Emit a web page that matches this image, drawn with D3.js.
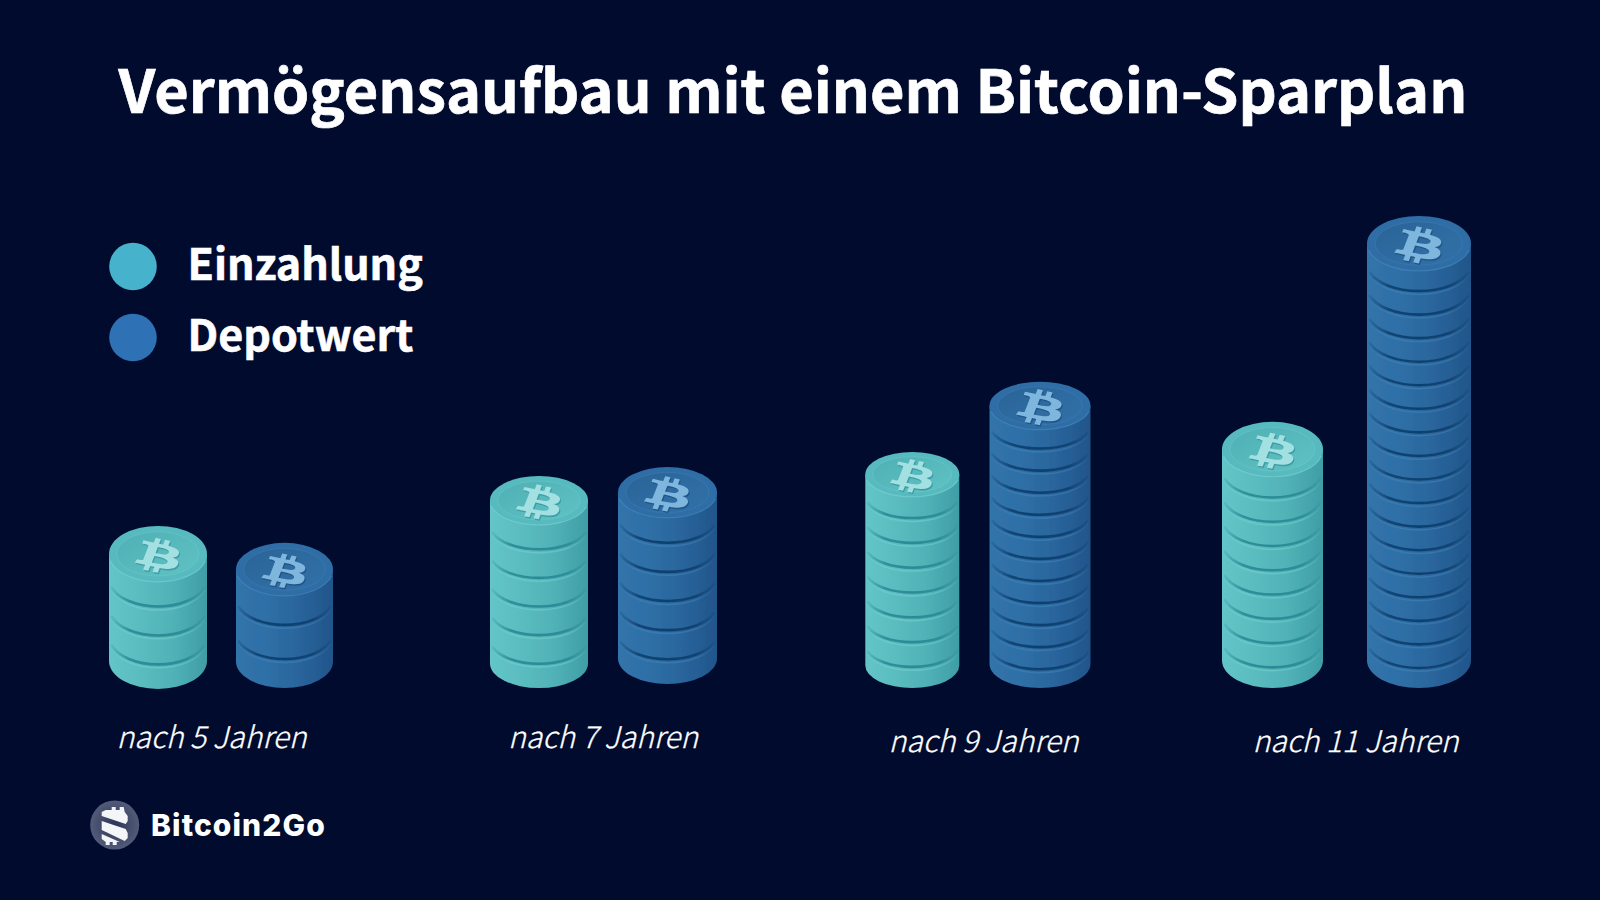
<!DOCTYPE html>
<html lang="de">
<head>
<meta charset="utf-8">
<title>Vermögensaufbau mit einem Bitcoin-Sparplan</title>
<script src="https://cdn.jsdelivr.net/npm/d3@7/dist/d3.min.js"></script>
<style>
html,body{margin:0;padding:0;background:#000b2e;}
svg{display:block;}
text{font-family:"Noto Sans CJK JP","Noto Sans",sans-serif;fill:#fff;}
</style>
</head>
<body>
<svg id="chart" width="1600" height="900"></svg>
<script>
// ---- data (stack height as % of the tallest stack, coins per stack)
const titleText = "Vermögensaufbau mit einem Bitcoin-Sparplan";
const categories = ["nach 5 Jahren", "nach 7 Jahren", "nach 9 Jahren", "nach 11 Jahren"];
const seriesNames = ["Einzahlung", "Depotwert"];
const einzahlungHeight = [34.2, 44.8, 49.9, 56.3];
const depotwertHeight = [30.6, 46.7, 64.8, 100];
const einzahlungCoins = [4, 6, 8, 9];
const depotwertCoins = [3, 6, 12, 18];
const brandName = "Bitcoin2Go";

// ---- layout and style, kept apart from the data
const W = 1600, H = 900, BG = "#000b2e";
const BTC = "M17.288 10.291c.24-1.59-.974-2.45-2.64-3.03l.54-2.153-1.315-.33-.525 2.107c-.345-.087-.705-.167-1.064-.25l.526-2.127-1.32-.33-.54 2.165c-.285-.067-.565-.132-.84-.2l-1.815-.45-.35 1.407s.975.225.955.236c.535.136.63.486.615.766l-1.477 5.92c-.075.166-.24.406-.614.314.015.02-.96-.24-.96-.24l-.66 1.51 1.71.426.93.242-.54 2.19 1.32.327.54-2.17c.36.1.705.19 1.05.273l-.51 2.154 1.32.33.545-2.19c2.24.427 3.93.257 4.64-1.774.57-1.637-.03-2.58-1.217-3.196.854-.193 1.5-.76 1.68-1.93h.01zm-3.01 4.22c-.404 1.64-3.157.75-4.05.53l.72-2.9c.896.23 3.757.67 3.33 2.37zm.41-4.24c-.37 1.49-2.662.735-3.405.55l.654-2.64c.744.18 3.137.524 2.75 2.084v.006z";

const y = d3.scaleLinear().domain([0, 100]).range([687, 216]);
const stylesBySeries = {
  Einzahlung: {
    x: d3.scaleOrdinal(categories, [158, 539, 912.3, 1272.5]),
    rx: d3.scaleOrdinal(categories, [49, 49, 47, 50.5]),
    ry: d3.scaleOrdinal(categories, [28, 24.5, 22.5, 27.5]),
    baseShift: d3.scaleOrdinal(categories, [2, 1, 1, 1]),
    side: ["#63c5c7", "#5abcbf", "#50b1b6", "#3f9da6"],
    rim: "#57babe", rimLight: "#7cd2d2",
    faceA: "#4fb0b5", faceB: "#60c2c3",
    groove: "#2a8b96", grooveLight: "#7ed2d2",
    glyph: "#a2e0e2", glyphShadow: "#3f9ca5"
  },
  Depotwert: {
    x: d3.scaleOrdinal(categories, [284.5, 667.5, 1040, 1419]),
    rx: d3.scaleOrdinal(categories, [48.5, 49.5, 50.5, 52]),
    ry: d3.scaleOrdinal(categories, [26.5, 25.5, 24, 27.5]),
    baseShift: d3.scaleOrdinal(categories, [1, -3, 1, 1]),
    side: ["#3174ab", "#2e6fa6", "#29649b", "#20558a"],
    rim: "#2e6da5", rimLight: "#4a8bbf",
    faceA: "#2a6497", faceB: "#3171a8",
    groove: "#10406f", grooveLight: "#4687bb",
    glyph: "#7fb6de", glyphShadow: "#215589"
  }
};

const svg = d3.select("#chart");
svg.append("rect").attr("width", W).attr("height", H).attr("fill", BG);
const defs = svg.append("defs");
defs.append("filter").attr("id", "soft").attr("x", "-5%").attr("y", "-40%").attr("width", "110%").attr("height", "180%")
  .append("feGaussianBlur").attr("stdDeviation", 0.7);
defs.append("filter").attr("id", "edge").attr("x", "-10%").attr("y", "-10%").attr("width", "120%").attr("height", "120%")
  .append("feGaussianBlur").attr("stdDeviation", 0.45);

function linearGrad(id, stops, x1, y1, x2, y2) {
  const g = defs.append("linearGradient").attr("id", id)
    .attr("x1", x1).attr("y1", y1).attr("x2", x2).attr("y2", y2);
  stops.forEach((c, i) => g.append("stop")
    .attr("offset", i / (stops.length - 1)).attr("stop-color", c));
}
function fadeGrad(id, color) {
  const g = defs.append("linearGradient").attr("id", id).attr("x1", 0).attr("y1", 0).attr("x2", 1).attr("y2", 0);
  [[0, 0.15], [0.2, 0.9], [0.5, 1], [0.8, 0.9], [1, 0.15]].forEach(([o, a]) =>
    g.append("stop").attr("offset", o).attr("stop-color", color).attr("stop-opacity", a));
}
seriesNames.forEach(name => {
  const s = stylesBySeries[name];
  linearGrad("side" + name, s.side, 0, 0, 1, 0);
  linearGrad("face" + name, [s.faceA, s.faceB], 0, 0, 1, 1);
  fadeGrad("groove" + name, s.groove);
  fadeGrad("lip" + name, s.grooveLight);
});

// ---- title
svg.append("text").attr("x", 793).attr("y", 113)
  .attr("text-anchor", "middle").attr("font-size", 59.5).attr("font-weight", 700)
  .attr("stroke", "#fff").attr("stroke-width", 0.7)
  .text(titleText);

// ---- stacks
function drawStack(parent, name, category, value, coins) {
  const s = stylesBySeries[name];
  const cx = s.x(category), rx = s.rx(category), ry = s.ry(category);
  const top = y(value);
  const bottom = y(0) + s.baseShift(category);
  const faceCy = top + ry;
  const faceBottom = top + 2 * ry;
  const g = parent.append("g").attr("class", "stack");

  // cylinder body
  g.append("path")
    .attr("d", `M${cx - rx},${faceCy}L${cx - rx},${bottom - ry}A${rx},${ry} 0 0 0 ${cx + rx},${bottom - ry}L${cx + rx},${faceCy}Z`)
    .attr("fill", `url(#side${name})`).attr("filter", "url(#edge)");

  // grooves between the coins
  const k = 0.85;
  const step = (bottom - faceBottom) / (coins - 2 + 2 * k);
  const ux = 0.955, uy = Math.sqrt(1 - ux * ux);
  d3.range(coins - 1).forEach(i => {
    const edge = faceBottom + step * (k + i);
    const c = edge - ry;
    const arc = off => `M${cx - rx * ux},${c + ry * uy + off}A${rx},${ry} 0 0 0 ${cx + rx * ux},${c + ry * uy + off}`;
    g.append("path").attr("d", arc(3.4)).attr("fill", "none")
      .attr("stroke", `url(#lip${name})`).attr("stroke-opacity", 0.5).attr("stroke-width", 1.5).attr("filter", "url(#soft)");
    g.append("path").attr("d", arc(0)).attr("fill", "none")
      .attr("stroke", `url(#groove${name})`).attr("stroke-width", 2.6).attr("filter", "url(#soft)");
  });

  // top face: rim, recessed centre, symbol
  g.append("ellipse").attr("cx", cx).attr("cy", faceCy).attr("rx", rx).attr("ry", ry).attr("fill", s.rim).attr("filter", "url(#edge)");
  g.append("path")
    .attr("d", `M${cx - rx * 0.97},${faceCy + ry * 0.24}A${rx},${ry} 0 0 0 ${cx + rx * 0.97},${faceCy + ry * 0.24}`)
    .attr("fill", "none").attr("stroke", s.rimLight).attr("stroke-opacity", 0.6).attr("stroke-width", 1.2);
  g.append("ellipse").attr("cx", cx).attr("cy", faceCy).attr("rx", rx * 0.84).attr("ry", ry * 0.79)
    .attr("fill", `url(#face${name})`).attr("stroke", s.rimLight).attr("stroke-opacity", 0.3);
  const z = rx / 49;
  const m = (dx, dy) => `translate(${cx + 0.5 + dx},${faceCy + 2 + dy}) matrix(${3.9 * z},${0.28 * z},${0.1 * z},${2.3 * z},0,0) translate(-12,-12)`;
  g.append("path").attr("d", BTC).attr("fill-rule", "evenodd").attr("fill", s.glyphShadow)
    .attr("transform", m(1, 1.5));
  g.append("path").attr("d", BTC).attr("fill-rule", "evenodd").attr("fill", s.glyph)
    .attr("transform", m(0, 0));
}

const stacks = svg.append("g").attr("id", "stacks");
categories.forEach((c, i) => {
  drawStack(stacks, "Einzahlung", c, einzahlungHeight[i], einzahlungCoins[i]);
  drawStack(stacks, "Depotwert", c, depotwertHeight[i], depotwertCoins[i]);
});

// ---- category labels
const labelX = d3.scaleOrdinal(categories, [211.5, 603, 983.5, 1355.5]);
const labelY = d3.scaleOrdinal(categories, [748, 748, 752, 752]);
svg.append("g").selectAll("text").data(categories).join("text")
  .attr("x", d => labelX(d)).attr("y", d => labelY(d))
  .attr("text-anchor", "middle").attr("font-size", 30).attr("font-weight", 300)
  .attr("font-style", "italic").attr("stroke", "#fff").attr("stroke-width", 0.3).text(d => d);

// ---- legend
const legendColor = d3.scaleOrdinal(seriesNames, ["#47b2cc", "#2f71b4"]);
const legendCy = d3.scaleOrdinal(seriesNames, [266.5, 337.5]);
const legendBase = d3.scaleOrdinal(seriesNames, [279.5, 351]);
const legend = svg.append("g").attr("id", "legend");
legend.selectAll("circle").data(seriesNames).join("circle")
  .attr("cx", 133).attr("cy", d => legendCy(d)).attr("r", 23.8)
  .attr("fill", d => legendColor(d)).attr("filter", "url(#edge)");
legend.selectAll("text").data(seriesNames).join("text")
  .attr("x", 187.5).attr("y", d => legendBase(d))
  .attr("font-size", 43).attr("font-weight", 700)
  .attr("stroke", "#fff").attr("stroke-width", 0.6).text(d => d);

// ---- brand
const radial = defs.append("radialGradient").attr("id", "brandDisc");
radial.append("stop").attr("offset", 0).attr("stop-color", "#2c3556");
radial.append("stop").attr("offset", 1).attr("stop-color", "#525b78");
const brand = svg.append("g").attr("id", "brand").attr("transform", "translate(114.7,825)");
brand.append("circle").attr("r", 24.5).attr("fill", "url(#brandDisc)");
const bands = [
  "M-9,-15L-3,-15L-3,-18L1,-18L1,-15L5,-15L5,-18L9,-18L10,-13L13,-9L13,-4L11,-1L-13,-9L-13,-13Z",
  "M-13,-4L11,4L13,8L13,13L10,16L-13,5Z",
  "M-13,9L5,17L2,17L2,20L-2,20L-2,17L-5,17L-5,20L-9,20L-9,17L-13,14Z"
];
brand.selectAll("path").data(bands).join("path").attr("d", d => d).attr("fill", "#f4f5f8");
svg.append("text").attr("x", 151).attr("y", 836)
  .style("font-family", "Inter,'Noto Sans',sans-serif")
  .attr("font-size", 30).attr("font-weight", 800).attr("letter-spacing", 1.1).text(brandName);
</script>
</body>
</html>
